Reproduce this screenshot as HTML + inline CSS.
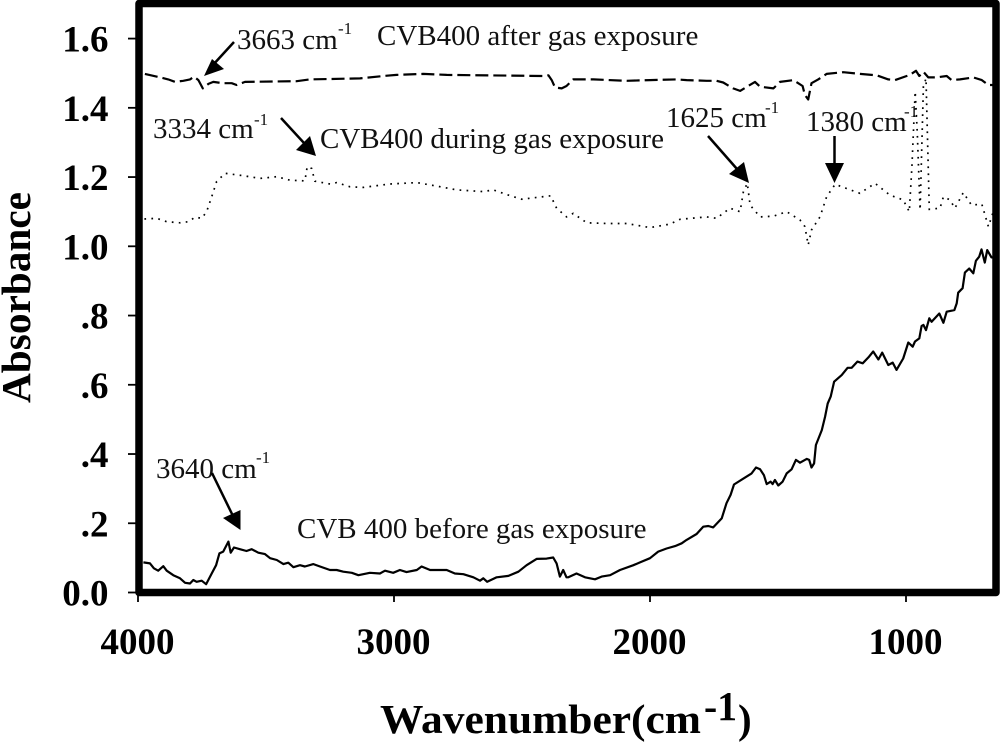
<!DOCTYPE html>
<html lang="en">
<head>
<meta charset="utf-8">
<title>Absorbance vs wavenumber for CVB400</title>
<style>
html,body{margin:0;padding:0;background:#fff;}
svg{display:block;font-family:"Liberation Serif",serif;}
.ann{font-size:29px;fill:#111;}
.sup{font-size:17px;fill:#111;}
.tick{font-size:37px;font-weight:bold;fill:#000;}
.title{font-size:41px;font-weight:bold;fill:#000;}
</style>
</head>
<body>
<svg id="chart" xmlns="http://www.w3.org/2000/svg" width="1000" height="742" viewBox="0 0 1000 742">
  <defs>
    <clipPath id="plot-clip"><rect x="142" y="7" width="851" height="582"/></clipPath>
  </defs>
  <rect x="0" y="0" width="1000" height="742" fill="#fff"/>
  <g id="series-layer" clip-path="url(#plot-clip)"></g>
  <g id="tick-layer"></g>
  <rect x="139" y="3.5" width="857" height="589" fill="none" stroke="#000" stroke-width="7.5" stroke-linejoin="round"/>

  <text class="title" transform="translate(30,403) rotate(-90)" textLength="211" lengthAdjust="spacingAndGlyphs">Absorbance</text>
  <text class="title" x="380" y="733" textLength="321" lengthAdjust="spacingAndGlyphs">Wavenumber(cm</text>
  <text class="title" x="704" y="720" textLength="33" lengthAdjust="spacingAndGlyphs">-1</text>
  <text class="title" x="738" y="733">)</text>

  <g>
    <text class="ann" x="237" y="49">3663 cm</text>
    <text class="sup" x="338" y="34">-1</text>
    <line x1="234" y1="42" x2="212" y2="66" stroke="#000" stroke-width="2.5"/>
    <polygon points="204,76 212,59 224,69" fill="#000"/>
  </g>
  <text class="ann" x="377" y="45">CVB400 after gas exposure</text>

  <g>
    <text class="ann" x="153" y="138">3334 cm</text>
    <text class="sup" x="254" y="125">-1</text>
    <line x1="281" y1="118" x2="304" y2="143" stroke="#000" stroke-width="2.5"/>
    <polygon points="316,156 310,136 296,150" fill="#000"/>
  </g>
  <text class="ann" x="320" y="148">CVB400 during gas exposure</text>

  <g>
    <text class="ann" x="666" y="127">1625 cm</text>
    <text class="sup" x="765" y="113">-1</text>
    <line x1="708" y1="136" x2="737" y2="169" stroke="#000" stroke-width="2.5"/>
    <polygon points="749,183 744,162 729,174" fill="#000"/>
  </g>

  <g>
    <text class="ann" x="806" y="131">1380 cm</text>
    <text class="sup" x="904" y="117">-1</text>
    <line x1="834.5" y1="136" x2="834.5" y2="165" stroke="#000" stroke-width="2.5"/>
    <polygon points="834.5,183 825,163 844,163" fill="#000"/>
  </g>

  <g>
    <text class="ann" x="156" y="478">3640 cm</text>
    <text class="sup" x="256" y="463">-1</text>
    <line x1="212" y1="473" x2="233" y2="516" stroke="#000" stroke-width="2.5"/>
    <polygon points="240.5,530 240.5,510 223,518" fill="#000"/>
  </g>
  <text class="ann" x="297" y="538">CVB 400 before gas exposure</text>
</svg>
<script>
const xTickValues = [4000, 3000, 2000, 1000];
const xTickLabels = ['4000', '3000', '2000', '1000'];
const yTickValues = [0, 0.2, 0.4, 0.6, 0.8, 1.0, 1.2, 1.4, 1.6];
const yTickLabels = ['0.0', '.2', '.4', '.6', '.8', '1.0', '1.2', '1.4', '1.6'];

const beforeWavenumbers = [3979,3953,3938,3921,3901,3888,3862,3836,3816,3797,3784,3771,3751,3734,3712,3695,3682,3667,3647,3638,3625,3602,3576,3556,3530,3504,3484,3458,3432,3413,3393,3367,3348,3315,3289,3250,3224,3198,3165,3139,3094,3055,3035,3003,2977,2951,2911,2892,2859,2794,2762,2729,2690,2664,2651,2636,2599,2553,2514,2482,2443,2404,2378,2365,2352,2339,2326,2319,2287,2254,2215,2189,2156,2117,2065,2039,2000,1968,1935,1902,1876,1857,1818,1792,1772,1753,1720,1701,1685,1672,1635,1603,1586,1570,1555,1544,1529,1521,1512,1499,1482,1466,1447,1430,1414,1388,1378,1369,1359,1352,1329,1316,1306,1294,1281,1251,1228,1212,1190,1169,1147,1128,1108,1093,1069,1052,1037,1011,991,974,965,948,939,932,922,909,900,870,854,841,822,811,802,796,779,770,753,737,727,714,705,692,683,666,650];
const beforeAbsorbance = [.087,.084,.070,.063,.076,.063,.050,.041,.028,.026,.036,.031,.034,.024,.055,.079,.113,.118,.147,.115,.130,.125,.120,.125,.115,.111,.099,.094,.082,.086,.073,.079,.075,.082,.075,.065,.065,.060,.057,.050,.057,.055,.063,.057,.065,.059,.065,.075,.065,.065,.055,.053,.044,.034,.041,.031,.044,.048,.060,.079,.097,.098,.101,.084,.046,.065,.044,.044,.055,.044,.038,.046,.050,.065,.079,.087,.099,.118,.127,.134,.142,.152,.169,.190,.192,.188,.214,.258,.282,.312,.329,.344,.361,.356,.339,.313,.320,.313,.325,.309,.320,.344,.356,.383,.375,.386,.383,.361,.373,.426,.469,.508,.546,.566,.609,.628,.649,.649,.667,.662,.679,.696,.673,.693,.657,.664,.643,.676,.722,.710,.725,.734,.770,.773,.758,.792,.782,.806,.779,.811,.814,.816,.835,.866,.879,.924,.936,.922,.958,.970,.991,.953,.989,.968,.968];

const duringWavenumbers = [3975,3927,3888,3836,3803,3777,3751,3732,3712,3693,3660,3589,3523,3458,3406,3348,3339,3322,3309,3250,3224,3172,3120,3016,2911,2833,2755,2651,2612,2553,2501,2388,2365,2326,2300,2247,2169,2091,2000,1922,1883,1779,1740,1688,1648,1635,1620,1609,1570,1518,1466,1414,1395,1382,1369,1336,1310,1277,1232,1180,1121,1063,1011,987,977,964,956,945,932,922,909,867,854,828,809,776,744,704,678,659];
const duringAbsorbance = [1.079,1.081,1.071,1.068,1.071,1.084,1.081,1.100,1.143,1.187,1.211,1.204,1.196,1.201,1.191,1.189,1.230,1.225,1.188,1.180,1.184,1.172,1.170,1.180,1.184,1.174,1.163,1.158,1.163,1.148,1.136,1.146,1.110,1.085,1.095,1.068,1.066,1.066,1.054,1.064,1.078,1.085,1.081,1.110,1.100,1.158,1.182,1.119,1.085,1.087,1.100,1.076,1.057,1.004,1.047,1.085,1.143,1.179,1.167,1.153,1.182,1.148,1.134,1.100,1.230,1.447,1.326,1.105,1.461,1.485,1.107,1.110,1.143,1.134,1.110,1.155,1.119,1.122,1.057,1.100];

const afterWavenumbers = [3973,3914,3882,3855,3823,3797,3781,3764,3747,3725,3706,3667,3634,3615,3582,3380,3328,3133,3042,2990,2886,2794,2417,2397,2384,2371,2345,2326,2300,2221,2091,2000,1896,1857,1779,1740,1714,1675,1648,1590,1570,1518,1492,1440,1421,1404,1395,1382,1369,1343,1310,1245,1180,1115,1069,1043,985,961,948,932,913,880,841,822,789,737,704,678,659];
const afterAbsorbance = [1.498,1.488,1.482,1.475,1.478,1.482,1.490,1.480,1.456,1.469,1.475,1.471,1.471,1.466,1.475,1.477,1.482,1.485,1.492,1.495,1.498,1.495,1.492,1.494,1.480,1.459,1.456,1.463,1.482,1.482,1.478,1.480,1.482,1.480,1.478,1.478,1.473,1.456,1.449,1.475,1.461,1.456,1.475,1.480,1.471,1.463,1.437,1.424,1.471,1.482,1.498,1.503,1.498,1.494,1.482,1.480,1.495,1.507,1.492,1.504,1.488,1.488,1.492,1.480,1.482,1.488,1.480,1.466,1.466];

function xScale(w) { return 138 + (4000 - w) * 0.256; }
function yScale(v) { return 592.5 - 346.2 * v; }

const NS = 'http://www.w3.org/2000/svg';
const seriesLayer = document.getElementById('series-layer');
const tickLayer = document.getElementById('tick-layer');

function buildPoints(xs, ys) {
  return xs.map(function (w, i) { return xScale(w).toFixed(1) + ',' + yScale(ys[i]).toFixed(1); }).join(' ');
}

const beforeLine = document.createElementNS(NS, 'polyline');


beforeLine.setAttribute('points', buildPoints(beforeWavenumbers, beforeAbsorbance));
beforeLine.setAttribute('fill', 'none');
beforeLine.setAttribute('stroke', '#000');
beforeLine.setAttribute('stroke-width', '2.2');
beforeLine.setAttribute('stroke-linejoin', 'round');
seriesLayer.appendChild(beforeLine);

const duringLine = document.createElementNS(NS, 'polyline');


duringLine.setAttribute('points', buildPoints(duringWavenumbers, duringAbsorbance));
duringLine.setAttribute('fill', 'none');
duringLine.setAttribute('stroke', '#000');
duringLine.setAttribute('stroke-width', '1.7');
duringLine.setAttribute('stroke-dasharray', '1.7 5.3');
seriesLayer.appendChild(duringLine);

const afterLine = document.createElementNS(NS, 'polyline');


afterLine.setAttribute('points', buildPoints(afterWavenumbers, afterAbsorbance));
afterLine.setAttribute('fill', 'none');
afterLine.setAttribute('stroke', '#000');
afterLine.setAttribute('stroke-width', '2.2');
afterLine.setAttribute('stroke-dasharray', '13 5');
afterLine.setAttribute('stroke-linejoin', 'round');
seriesLayer.appendChild(afterLine);

xTickValues.forEach(function (value, i) {
  const mark = document.createElementNS(NS, 'line');
  
  
  mark.setAttribute('x1', xScale(value));
  mark.setAttribute('x2', xScale(value));
  mark.setAttribute('y1', 594);
  mark.setAttribute('y2', 602);
  mark.setAttribute('stroke', '#000');
  mark.setAttribute('stroke-width', '1.8');
  tickLayer.appendChild(mark);

  const label = document.createElementNS(NS, 'text');
  
  
  label.setAttribute('class', 'tick');
  label.setAttribute('x', xScale(value) - 0.5);
  label.setAttribute('y', 654);
  label.setAttribute('text-anchor', 'middle');
  label.textContent = xTickLabels[i];
  tickLayer.appendChild(label);
});

yTickValues.forEach(function (value, i) {
  const mark = document.createElementNS(NS, 'line');
  
  
  mark.setAttribute('x1', 128);
  mark.setAttribute('x2', 137);
  mark.setAttribute('y1', yScale(value));
  mark.setAttribute('y2', yScale(value));
  mark.setAttribute('stroke', '#000');
  mark.setAttribute('stroke-width', '1.8');
  tickLayer.appendChild(mark);

  const label = document.createElementNS(NS, 'text');
  
  
  label.setAttribute('class', 'tick');
  label.setAttribute('x', 108.5);
  label.setAttribute('y', yScale(value) + 13);
  label.setAttribute('text-anchor', 'end');
  label.textContent = yTickLabels[i];
  tickLayer.appendChild(label);
});
</script>
</body>
</html>
